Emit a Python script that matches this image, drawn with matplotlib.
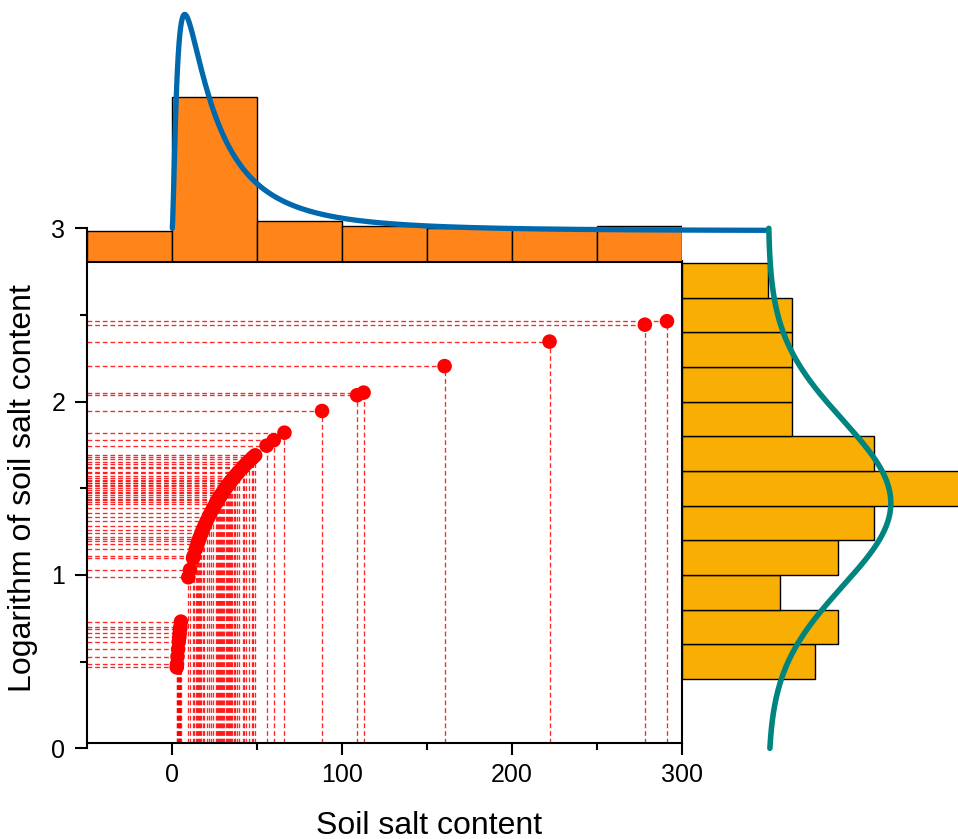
import numpy as np
import matplotlib
matplotlib.use('Agg')
import matplotlib.pyplot as plt

plt.rcParams['font.family'] = ['Liberation Sans', 'DejaVu Sans']

# soil salt content of every sample
salt = [2.93, 3.06, 3.38, 3.73,
        4.12, 4.37, 4.6, 4.86, 5.0, 5.38,
        9.7,
        10.7, 12.5, 12.9, 14.1, 15.1, 15.6,
        16.1, 16.6, 17.4, 18.2, 19.1, 20.4, 21.7, 22.9, 24.3,
        25.7, 26.3, 26.9, 27.5, 28.2, 28.8, 29.6, 30.3, 30.9, 31.6,
        32.4, 33.1, 33.9, 34.1, 34.7, 35.5, 36.3, 37.2, 38.5, 39.5,
        41.6, 42.2, 43.7, 45.1, 46.9, 47.9, 49.0, 55.7, 59.9,
        66.2, 88.3,
        108.9, 112.7,
        160.3, 222.0,
        278.0, 291.0]

# histogram bins of both margins
x_bins = [-50, 0, 50, 100, 150, 200, 250, 300]
y_bins = [0.4, 0.6, 0.8, 1.0, 1.2, 1.4, 1.6, 1.8, 2.0, 2.2, 2.4, 2.6, 2.8]

# fitted curves
mu_log, sd_log = 1.415, 0.48      # normal fit on the log axis
mu_ln, sd_ln = 3.194, 1.08        # lognormal fit on the salt axis

x = np.array(salt)
y = np.log10(x)
n = len(x)

fig = plt.figure(figsize=(9.58, 8.39), dpi=100)
W, H = 958.0, 839.0

# pixel layout
left_px, right_px = 86.7, 682.3
y0_px, y3_px, base_px = 748.3, 228.3, 261.7
xaxis_y = 0.032  # the x axis sits a little above y = 0
top_y = 2.81     # where the top histogram starts

ax = fig.add_axes([left_px / W, 1 - y0_px / H, (right_px - left_px) / W, (y0_px - y3_px) / H])
axt = fig.add_axes([left_px / W, 1 - base_px / H, (right_px - left_px) / W, base_px / H])
axr = fig.add_axes([right_px / W, 1 - y0_px / H, 1 - right_px / W, (y0_px - y3_px) / H])

# main scatter with drop lines
dash = (0, (3.6, 2.2))
ax.set_xlim(-50, 300)
ax.set_ylim(0, 3.0)
ax.hlines(y, -50, x, colors='#FF0000', linewidth=0.95, linestyles=dash, alpha=0.85, zorder=2)
ax.vlines(x, xaxis_y, y, colors='#FF0000', linewidth=0.95, linestyles=dash, alpha=0.85, zorder=2)
ax.scatter(x, y, s=110, color='#FF0000', edgecolors='none', zorder=3)

for s in ['left', 'bottom', 'right']:
    ax.spines[s].set_linewidth(1.5)
ax.spines['top'].set_visible(False)
ax.spines['bottom'].set_position(('data', xaxis_y))
ax.spines['right'].set_bounds(xaxis_y, top_y)

ax.set_xticks([0, 100, 200, 300])
ax.set_xticks([50, 150, 250], minor=True)
ax.set_yticks([0, 1, 2, 3])
ax.set_yticks([0.5, 1.5, 2.5], minor=True)
ax.tick_params(axis='both', which='major', direction='out', length=8.5, width=1.5, labelsize=18)
ax.tick_params(axis='both', which='minor', direction='out', length=4.8, width=1.5)
ax.tick_params(axis='x', which='major', pad=6)
ax.tick_params(axis='y', which='major', pad=7)

ax.set_xlabel('Soil salt content', fontsize=23)
ax.set_ylabel('Logarithm of soil salt content', fontsize=23)
ax.xaxis.set_label_coords(0.575, -0.12)
ax.yaxis.set_label_coords(-0.082, 0.5)

# top margin: histogram of salt content + lognormal fit
cnt_x, _ = np.histogram(x, bins=x_bins)
off_t = 12.25
centers_x = (np.array(x_bins[:-1]) + np.array(x_bins[1:])) / 2
axt.bar(centers_x, cnt_x + off_t, width=50, bottom=-off_t, color='#FF841A',
        edgecolor='black', linewidth=1.0, zorder=2)
xs = np.linspace(0.3, 350, 1500)
pdf_ln = np.exp(-(np.log(xs) - mu_ln) ** 2 / (2 * sd_ln ** 2)) / (xs * sd_ln * np.sqrt(2 * np.pi))
axt.plot(xs, n * 50 * pdf_ln, color='#0068AD', linewidth=3.8, solid_capstyle='round', clip_on=False, zorder=3)
axt.set_xlim(-50, 300)
axt.set_ylim(-off_t, -off_t + base_px / 2.53)
axt.patch.set_visible(False)
for s in ['left', 'right', 'top']:
    axt.spines[s].set_visible(False)
axt.spines['bottom'].set_linewidth(1.5)
axt.set_xticks([])
axt.set_yticks([])

# right margin: histogram of log salt + normal fit
cnt_y, _ = np.histogram(y, bins=y_bins)
off_r = 7.35
centers_y = (np.array(y_bins[:-1]) + np.array(y_bins[1:])) / 2
axr.barh(centers_y, cnt_y + off_r, height=0.2, left=-off_r, color='#F8AE02',
         edgecolor='black', linewidth=1.0, zorder=2)
ys = np.linspace(0, 3, 600)
pdf_n = np.exp(-(ys - mu_log) ** 2 / (2 * sd_log ** 2)) / (sd_log * np.sqrt(2 * np.pi))
axr.plot(n * 0.2 * pdf_n, ys, color='#008480', linewidth=4.0, solid_capstyle='round', clip_on=False, zorder=3)
axr.set_ylim(0, 3.0)
axr.set_xlim(-off_r, -off_r + (W - right_px) / 11.7)
axr.patch.set_visible(False)
for s in axr.spines.values():
    s.set_visible(False)
axr.set_xticks([])
axr.set_yticks([])

fig.savefig('out.png', dpi=100)
